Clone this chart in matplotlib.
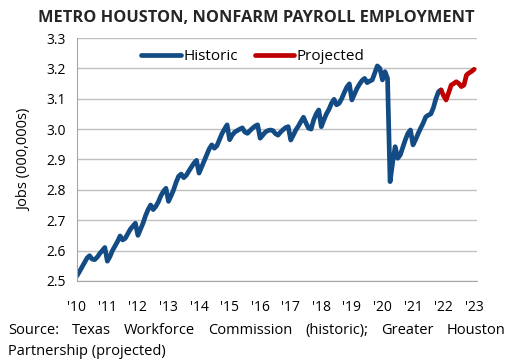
import matplotlib
matplotlib.use("Agg")
import matplotlib.pyplot as plt
import numpy as np

# monthly values, Jan 2010 .. Dec 2021 (historic), millions of jobs
historic = [
    2.516, 2.530, 2.545, 2.560, 2.575, 2.583, 2.572, 2.570, 2.578, 2.590, 2.600, 2.610,
    2.565, 2.580, 2.600, 2.615, 2.630, 2.648, 2.635, 2.640, 2.655, 2.670, 2.680, 2.690,
    2.650, 2.670, 2.690, 2.715, 2.735, 2.750, 2.735, 2.745, 2.760, 2.780, 2.795, 2.805,
    2.762, 2.780, 2.800, 2.825, 2.845, 2.852, 2.840, 2.848, 2.862, 2.875, 2.888, 2.897,
    2.855, 2.875, 2.895, 2.915, 2.935, 2.948, 2.937, 2.945, 2.965, 2.985, 3.000, 3.014,
    2.965, 2.980, 2.990, 2.995, 3.000, 3.004, 2.990, 2.986, 2.995, 3.003, 3.010, 3.014,
    2.970, 2.980, 2.990, 2.995, 2.997, 2.995, 2.985, 2.980, 2.990, 2.998, 3.005, 3.008,
    2.964, 2.980, 2.997, 3.010, 3.025, 3.039, 3.020, 3.003, 3.000, 3.030, 3.050, 3.063,
    3.008, 3.030, 3.050, 3.065, 3.085, 3.098, 3.080, 3.085, 3.100, 3.120, 3.138, 3.149,
    3.096, 3.115, 3.134, 3.148, 3.160, 3.167, 3.153, 3.158, 3.162, 3.185, 3.208, 3.200,
    3.162, 3.189, 3.167, 2.827, 2.890, 2.942, 2.904, 2.915, 2.940, 2.965, 2.986, 2.997,
    2.948, 2.965, 2.985, 3.003, 3.020, 3.040, 3.046, 3.050, 3.070, 3.100, 3.123, 3.129,
]
# Dec 2021 .. Jan 2023 (projected)
projected = [3.129, 3.110, 3.096, 3.120, 3.145, 3.150, 3.156, 3.150, 3.140, 3.145,
             3.178, 3.185, 3.190, 3.197]

years = list(range(2010, 2024))
year_labels = ["'" + str(y)[2:] for y in years]

x_hist = 2010 + np.arange(len(historic)) / 12
x_proj = 2010 + (len(historic) - 1 + np.arange(len(projected))) / 12

plt.rcParams['font.family'] = ['Open Sans', 'DejaVu Sans']

fig = plt.figure(figsize=(5.12, 3.62), dpi=100)
ax = fig.add_axes([0.150, 0.224, 0.782, 0.671])

ax.plot(x_hist, historic, color='#134C84', lw=3.4, label='Historic', solid_capstyle='round')
ax.plot(x_proj, projected, color='#C00000', lw=3.4, label='Projected', solid_capstyle='round')

ax.set_xlim(2010, 2023.1)
ax.set_ylim(2.5, 3.3)
ax.set_yticks(np.arange(2.5, 3.31, 0.1))
ax.set_yticklabels(['%.1f' % v for v in np.arange(2.5, 3.31, 0.1)])
ax.set_xticks(years)
ax.set_xticklabels(year_labels)
ax.tick_params(length=0, labelsize=10, colors='#000000')
ax.tick_params(axis='x', pad=14)
ax.tick_params(axis='y', pad=8)
ax.grid(axis='y', color='#BFBFBF', lw=1)
ax.set_axisbelow(True)
for s in ['top', 'right']:
    ax.spines[s].set_visible(False)
for s in ['left', 'bottom']:
    ax.spines[s].set_color('#A6A6A6')

ax.set_ylabel('Jobs (000,000s)', fontsize=10.5, labelpad=10)

ax.legend(loc='upper center', bbox_to_anchor=(0.44, 1.01), ncol=2, frameon=False,
          handlelength=2.6, handletextpad=0.15, columnspacing=1.1, fontsize=11)

fig.text(0.5, 0.95, 'METRO HOUSTON, NONFARM PAYROLL EMPLOYMENT', ha='center', va='center',
         fontsize=11.8, fontweight='bold', color='#262626')

# justified first source line
words = ['Source:', 'Texas', 'Workforce', 'Commission', '(historic);', 'Greater', 'Houston']
x0, x1 = 8 / 512, 505 / 512
fig.canvas.draw()
r = fig.canvas.get_renderer()
txts = [fig.text(0, 0.087, w, fontsize=10.5, va='center') for w in words]
widths = [t.get_window_extent(r).width / fig.bbox.width for t in txts]
gap = (x1 - x0 - sum(widths)) / (len(words) - 1)
pos = x0
for t, w in zip(txts, widths):
    t.set_x(pos)
    pos += w + gap
fig.text(x0, 0.030, 'Partnership (projected)', fontsize=10.5, va='center')

fig.savefig('out.png', dpi=100)
